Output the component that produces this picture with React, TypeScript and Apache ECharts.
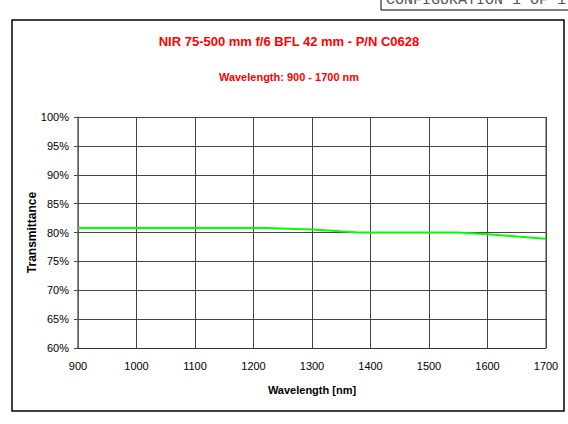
import React, { useEffect, useRef } from "react";
import * as echarts from "echarts";

const wavelengths = [900, 1000, 1100, 1200, 1220, 1300, 1380, 1400, 1500, 1550, 1600, 1650, 1700];
const transmittance = [80.8, 80.8, 80.8, 80.8, 80.8, 80.5, 80.0, 80.0, 80.0, 80.0, 79.7, 79.3, 78.9];

const titleText = "NIR 75-500 mm f/6 BFL 42 mm - P/N C0628";
const subtitleText = "Wavelength: 900 - 1700 nm";
const headerText = "CONFIGURATION 1 OF 1";

export default function App() {
  const ref = useRef<HTMLDivElement>(null);
  useEffect(() => {
    if (!ref.current) return;
    const chart = echarts.init(ref.current, null, { renderer: "svg" });
    const font = "'Liberation Sans', Arial, sans-serif";
    chart.setOption({
      animation: false,
      backgroundColor: "#fff",
      title: [
        {
          text: titleText,
          left: 289,
          top: 35,
          textAlign: "center",
          padding: 0,
          textStyle: { color: "#ff0000", fontSize: 13, fontWeight: "bold", fontFamily: font },
        },
        {
          text: subtitleText,
          left: 289,
          top: 71,
          textAlign: "center",
          padding: 0,
          textStyle: { color: "#ff0000", fontSize: 11, fontWeight: "bold", fontFamily: font },
        },
      ],
      grid: { left: 78, right: 22, top: 117, bottom: 76, containLabel: false },
      xAxis: {
        type: "value",
        min: 900,
        max: 1700,
        interval: 100,
        name: "Wavelength [nm]",
        nameLocation: "middle",
        nameGap: 36,
        nameMoveOverlap: false,
        nameTextStyle: { color: "#000", fontSize: 11, fontWeight: "bold", fontFamily: font },
        axisLine: { show: true, lineStyle: { color: "#333", width: 1 } },
        axisTick: { show: false },
        axisLabel: {
          color: "#000",
          fontSize: 11,
          fontFamily: font,
          margin: 12,
          formatter: (v: number) => String(v),
        },
        splitLine: { show: true, lineStyle: { color: "#444", width: 1 } },
      },
      yAxis: {
        type: "value",
        min: 60,
        max: 100,
        interval: 5,
        name: "Transmittance",
        nameLocation: "middle",
        nameGap: 40,
        nameMoveOverlap: false,
        nameTextStyle: { color: "#000", fontSize: 12, fontWeight: "bold", fontFamily: font },
        axisLine: { show: true, lineStyle: { color: "#666", width: 1.5 } },
        axisTick: { show: true, length: 4, lineStyle: { color: "#444" } },
        axisLabel: { color: "#000", fontSize: 11, fontFamily: font, margin: 9, formatter: "{value}%" },
        splitLine: { show: true, lineStyle: { color: "#444", width: 1 } },
      },
      graphic: [
        {
          type: "rect",
          shape: { x: 12, y: 20, width: 552, height: 391 },
          style: { fill: "none", stroke: "#000", lineWidth: 1.5 },
          silent: true,
        },
        {
          type: "line",
          shape: { x1: 546, y1: 117, x2: 546, y2: 348 },
          style: { stroke: "#888", lineWidth: 1.5 },
          silent: true,
        },
        {
          type: "line",
          shape: { x1: 381, y1: 0, x2: 381, y2: 10 },
          style: { stroke: "#000", lineWidth: 1 },
          silent: true,
        },
        {
          type: "line",
          shape: { x1: 381, y1: 10, x2: 568, y2: 10 },
          style: { stroke: "#000", lineWidth: 1 },
          silent: true,
        },
        {
          type: "text",
          x: 386,
          y: 8,
          style: {
            text: headerText,
            fill: "#555",
            fontSize: 15,
            fontFamily: "'Liberation Mono', 'DejaVu Sans Mono', monospace",
            textVerticalAlign: "bottom",
            textAlign: "left",
          },
          silent: true,
        },
      ],
      series: [
        {
          type: "line",
          data: wavelengths.map((w, i) => [w, transmittance[i]]),
          showSymbol: false,
          symbol: "none",
          lineStyle: { color: "#00ff00", width: 2 },
          itemStyle: { color: "#00ff00" },
        },
      ],
    });
    return () => chart.dispose();
  }, []);
  return (
    <div
      ref={ref}
      style={{ position: "absolute", left: 0, top: 0, width: 568, height: 424 }}
    />
  );
}
